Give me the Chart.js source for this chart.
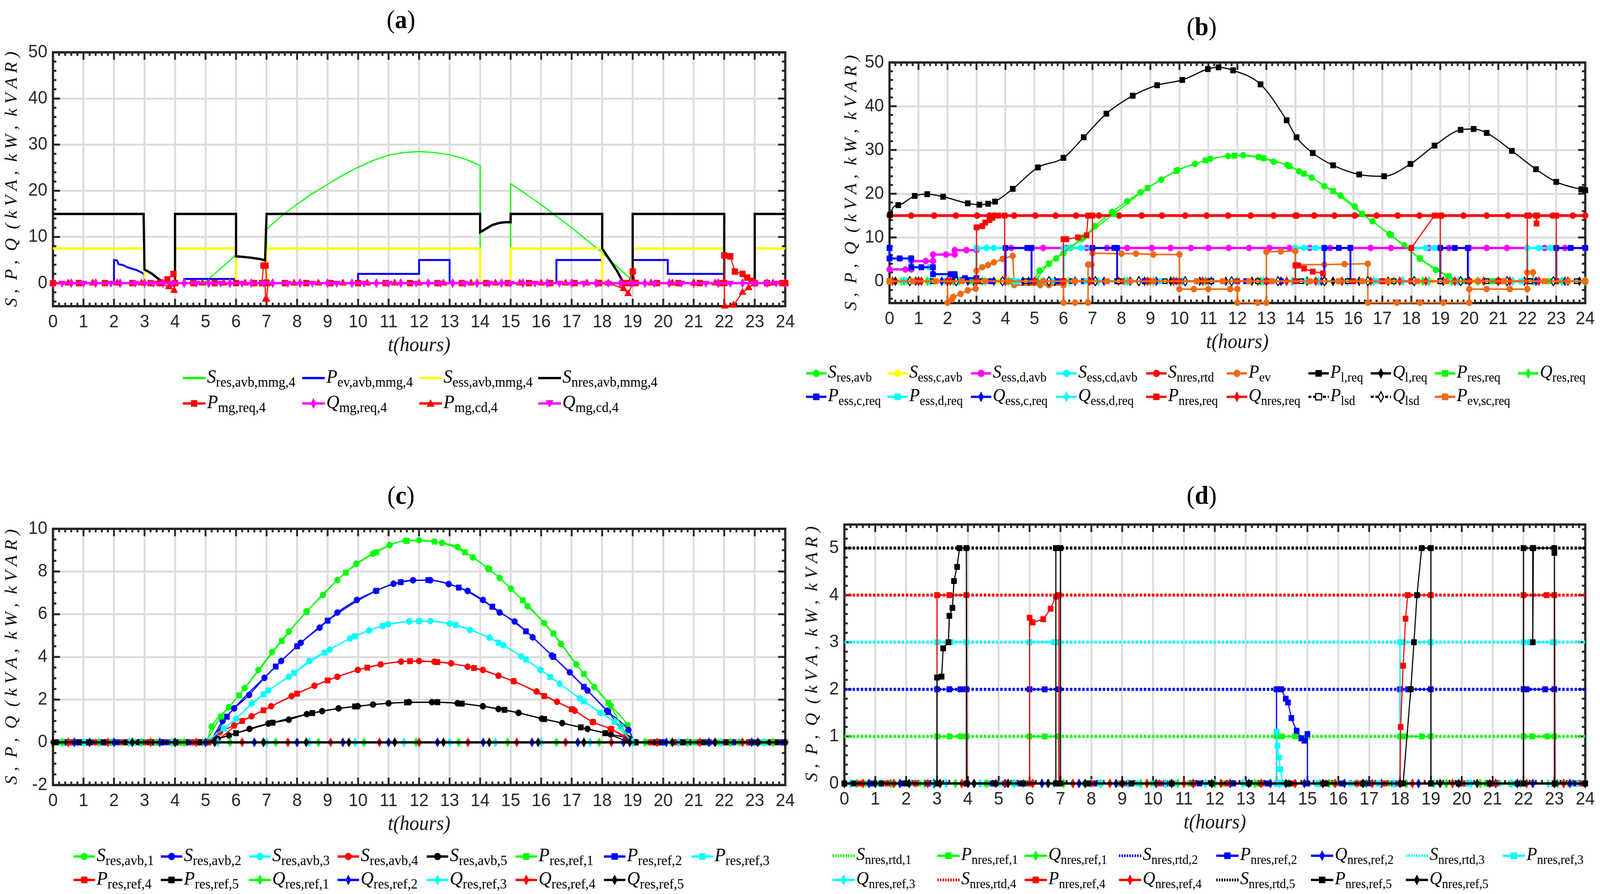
<!DOCTYPE html>
<html>
<head>
<meta charset="utf-8">
<script src="https://cdn.jsdelivr.net/npm/chart.js@4.4.1/dist/chart.umd.min.js"></script>
<style>
html,body{margin:0;padding:0;background:#fff;overflow:hidden;}
#wrap{position:relative;width:100vw;height:100vh;overflow:hidden;background:#fff;}
#root{position:absolute;left:0;top:0;width:4290px;height:2289px;overflow:hidden;background:#fff;transform-origin:0 0;}
canvas.cv{position:absolute;}
.ttl{position:absolute;font-family:"Liberation Serif","Times New Roman",serif;font-size:66px;color:#000;transform:translate(-50%,-50%);white-space:nowrap;line-height:1;}
.lg{position:absolute;display:flex;align-items:center;height:60px;white-space:nowrap;}
.lg svg{flex:none;}
.lt{font-family:"Liberation Serif","Times New Roman",serif;color:#000;line-height:1;margin-left:4px;}
.lt i{font-style:italic;}
.lt sub{vertical-align:-10px;line-height:1;}
</style>
</head>
<body>
<div id="wrap"><div id="root"></div></div>
<script>
// ================= DATA =================
// ---------- Panel (a) ----------
const a_Sres = [[0,0],[4.9,0],[5.0,0.3],[5.5,3.2],[6.0,6.1],[6.0,0],[7.0,0],[7.0,11.7],[7.5,14.6],[8.0,17.1],[8.5,19.4],[9.0,21.4],[9.5,23.4],[10.0,25.1],[10.5,26.6],[11.0,27.7],[11.5,28.3],[12.0,28.5],[12.5,28.3],[13.0,27.8],[13.5,26.9],[14.0,25.5],[14.0,0],[15.0,0],[15.0,21.5],[15.5,19.3],[16.0,17.0],[16.5,14.5],[17.0,12.0],[17.5,9.3],[18.0,6.6],[18.5,3.5],[19.0,0.5],[19.3,0],[24,0]];
const a_Pev = [[0,0],[2.0,0],[2.0,5.0],[2.1,4.9],[2.15,4.1],[2.3,3.9],[2.45,3.4],[2.6,3.1],[2.75,2.8],[2.9,2.3],[2.98,2.0],[3.0,0],[4.3,0],[4.3,0.9],[5.95,0.9],[5.95,0],[10.0,0],[10.0,2.0],[12.0,2.0],[12.0,5.0],[13.0,5.0],[13.0,0],[16.5,0],[16.5,5.0],[18.0,5.0],[18.0,0],[19.0,0],[19.0,5.0],[20.15,5.0],[20.15,2.0],[22.0,2.0],[22.0,0],[24,0]];
const a_Sess = [[0,7.5],[3,7.5],[3,0],[4,0],[4,7.5],[6,7.5],[6,0],[7,0],[7,7.5],[14,7.5],[14,0],[15,0],[15,7.5],[18,7.5],[18,0],[19,0],[19,7.5],[22,7.5],[22,0],[23,0],[23,7.5],[24,7.5]];
const a_Snres = [[0,15],[2.97,15],[3.0,2.9],[3.1,2.6],[3.25,2.0],[3.4,1.2],[3.55,0.5],[3.7,0],[4.0,0],[4.0,15],[6.0,15],[6.0,5.8],[6.2,5.7],[6.5,5.5],[6.8,5.2],[6.95,4.9],[7.0,15],[14.0,15],[14.0,11.0],[14.2,11.8],[14.4,12.6],[14.6,13.0],[14.8,13.2],[15.0,13.2],[15.0,15],[18.0,15],[18.0,7.5],[18.3,4.5],[18.5,2.5],[18.7,0],[19.0,0],[19.0,15],[22.0,15],[22.0,0],[23.0,0],[23.0,15],[24,15]];
const a_Pmgreq = [[0,0],[0.85,0],[1.7,0],[2.6,0],[3.2,0],[3.5,0],[3.75,0.8],[3.95,2.0],[4.0,0],[4.6,0],[5.3,0],[6.0,0],[6.6,0],[6.85,0],[6.9,3.8],[6.97,3.8],[7.0,0],[7.6,0],[8.3,0],[9.1,0],[10.0,0],[10.9,0],[11.7,0],[12.6,0],[13.4,0],[14.2,0],[14.9,0],[15.6,0],[16.3,0],[17.1,0],[17.9,0],[18.7,0],[18.85,0],[19.0,2.5],[19.1,0],[19.8,0],[20.5,0],[21.2,0],[21.9,0],[22.0,0],[22.0,6.0],[22.2,5.8],[22.35,2.5],[22.6,2.0],[22.75,1.2],[22.9,0.5],[23.0,0],[23.4,0],[23.9,0],[24,0]];
const a_Qmgreq = [[0,0],[0.6,0],[1.4,0],[2.2,0],[3.0,0],[3.6,0],[4.3,0],[5.1,0],[5.8,0],[6.5,0],[7.2,0],[8.1,0],[9.0,0],[9.8,0],[10.6,0],[11.4,0],[12.3,0],[13.1,0],[13.9,0],[14.7,0],[15.4,0],[16.2,0],[17.0,0],[17.8,0],[18.6,0],[19.4,0],[20.2,0],[21.0,0],[21.8,0],[22.6,0],[23.4,0],[24,0]];
const a_Pmgcd = [[0,0],[0.5,0],[1.3,0],[2.1,0],[2.9,0],[3.5,0],[3.8,-0.8],[3.97,-1.6],[4.0,0],[4.9,0],[5.6,0],[6.3,0],[6.95,0],[6.97,-3.5],[7.0,-3.5],[7.05,0],[7.9,0],[8.7,0],[9.5,0],[10.3,0],[11.2,0],[12.0,0],[12.8,0],[13.7,0],[14.5,0],[15.3,0],[16.0,0],[16.8,0],[17.5,0],[18.2,0],[18.7,-1.2],[18.85,-2.3],[19.0,0],[19.6,0],[20.3,0],[21.0,0],[21.7,0],[22.0,0],[22.02,-5.0],[22.3,-4.8],[22.6,-2.0],[22.8,-1.0],[23.0,0],[23.6,0],[24,0]];
const a_Qmgcd = [[0.3,0],[1.0,0],[1.9,0],[2.7,0],[3.3,0],[3.9,0],[4.7,0],[5.5,0],[6.2,0],[6.9,0],[7.7,0],[8.5,0],[9.3,0],[10.2,0],[11.0,0],[11.9,0],[12.7,0],[13.5,0],[14.3,0],[15.0,0],[15.8,0],[16.6,0],[17.4,0],[18.2,0],[19.0,0],[19.7,0],[20.6,0],[21.4,0],[22.2,0],[23.0,0],[23.7,0]];

// ---------- Panel (b) ----------
const b_Sres = [[0,0],[0.6,0],[1.5,0],[2.4,0],[3.3,0],[4.2,0],[4.9,0],[5.17,2.4],[5.5,4.0],[5.75,5.2],[6.0,6.4],[6.24,7.6],[6.69,10.0],[7.09,12.6],[7.67,15.8],[8.2,18.3],[8.66,20.3],[9.37,23.2],[9.93,25.4],[10.54,26.8],[11.07,28.0],[11.68,28.6],[12.2,28.8],[12.73,28.4],[13.25,27.3],[13.72,26.6],[14.13,25.1],[14.56,23.7],[15.0,21.7],[15.56,19.6],[16.05,17.1],[16.3,15.4],[16.66,13.7],[17.24,10.8],[17.76,8.2],[18.29,5.2],[18.85,2.6],[19.28,1.1],[19.7,0.15],[20.3,0],[21.2,0],[22.1,0],[23.0,0],[24,0]];
const b_Sessc = [[0.3,0],[0.8,0],[1.6,0],[2.5,0],[3.7,0],[5.0,0],[6.1,0],[7.4,0],[8.8,0],[10.1,0],[11.5,0],[12.9,0],[14.5,0],[15.9,0],[17.3,0],[18.7,0],[20.1,0],[21.5,0],[22.9,0],[24,0]];
const b_Sessd = [[0,2.7],[0.55,2.7],[0.75,2.7],[0.75,4.6],[1.25,4.6],[1.5,4.6],[1.5,6.1],[1.95,6.1],[2.25,6.1],[2.25,7.1],[2.65,7.1],[3.0,7.1],[3.0,7.6],[4.2,7.6],[5.3,7.6],[6.1,7.6],[6.8,7.6],[7.5,7.6],[8.2,7.6],[9.05,7.6],[9.7,7.6],[10.4,7.6],[11.0,7.6],[11.7,7.6],[12.4,7.6],[13.1,7.6],[13.8,7.6],[14.5,7.6],[15.2,7.6],[15.9,7.6],[16.6,7.6],[17.3,7.6],[18.0,7.6],[18.6,7.6],[19.3,7.6],[20.0,7.6],[20.6,7.6],[21.3,7.6],[22.0,7.6],[22.6,7.6],[23.3,7.6],[24,7.6]];
const b_Sesscd = [[0,5.2],[0.7,5.2],[0.75,5.2],[0.75,3.2],[1.37,3.2],[1.5,3.2],[1.5,1.6],[2.25,1.6],[2.25,0.7],[3.0,0.7],[3.0,7.6],[3.35,7.6],[3.6,7.6],[4.0,7.6],[4.0,0],[6.0,0],[6.0,7.6],[6.2,7.6],[6.6,7.6],[7.0,7.6],[7.0,0],[14.0,0],[14.0,7.6],[14.3,7.6],[14.7,7.6],[15.0,7.6],[15.0,0],[18.0,0],[18.0,7.6],[18.5,7.6],[18.8,7.6],[19.0,7.6],[19.0,0],[22.0,0],[22.0,7.6],[22.4,7.6],[22.8,7.6],[23.0,7.6],[23.0,0],[24,0]];
const b_Snres = [[0,15],[0.75,15],[1.54,15],[2.29,15],[3.02,15],[3.45,15],[3.6,15],[4.3,15],[5.03,15],[5.73,15],[6.43,15],[7.22,15],[7.92,15],[8.7,15],[9.4,15],[10.2,15],[10.94,15],[11.68,15],[12.46,15],[13.25,15],[14.0,15],[14.05,15],[14.65,15],[15.35,15],[16.05,15],[16.8,15],[17.53,15],[18.28,15],[19.05,15],[19.8,15],[20.6,15],[21.33,15],[22.08,15],[22.87,15],[23.57,15],[24,15]];
const b_Pev = [[0,0],[0.9,0],[2.0,0],[2.0,-4.9],[2.15,-4.2],[2.2,-3.6],[2.45,-2.9],[2.7,-2.1],[2.97,-1.7],[3.0,2.4],[3.2,3.2],[3.4,3.7],[3.6,4.3],[3.9,5.1],[4.25,5.8],[4.3,-0.9],[5.2,-0.9],[5.5,-0.9],[6.0,-0.9],[6.0,-4.9],[6.4,-4.9],[6.85,-4.9],[6.85,3.8],[6.97,3.8],[7.0,6.4],[8.0,6.3],[8.5,6.3],[9.1,6.1],[10.0,6.1],[10.0,-1.8],[10.5,-1.8],[11.0,-1.8],[11.75,-1.8],[12.0,-1.8],[12.0,-4.9],[12.7,-4.9],[13.0,-4.9],[13.0,6.7],[13.5,6.8],[14.0,6.9],[14.0,3.8],[15.0,3.8],[15.7,3.9],[16.5,4.0],[16.5,-4.9],[17.5,-4.9],[18.3,-4.9],[19.1,-4.9],[20.0,-4.9],[20.0,-1.8],[20.6,-1.8],[21.4,-1.8],[22.0,-1.8],[22.0,2.0],[22.2,2.0],[22.2,0],[23.0,0],[24,0]];
const b_Pl = [[0,7.6],[0.02,15.2],[0.3,17.4],[0.87,19.5],[1.3,19.9],[1.85,19.3],[2.7,17.8],[3.1,17.5],[3.4,17.7],[3.64,18.2],[4.25,21.1],[5.12,26.0],[6.0,28.2],[6.7,32.9],[7.48,38.3],[8.39,42.4],[9.23,44.8],[10.1,46.0],[10.98,48.5],[11.35,48.9],[11.85,48.2],[12.8,45.0],[13.7,36.8],[14.04,32.9],[14.6,29.3],[15.3,26.5],[16.2,24.4],[17.06,24.0],[17.97,26.8],[18.8,31.0],[19.7,34.6],[20.15,34.8],[20.6,33.9],[21.47,29.8],[22.3,25.6],[23.0,22.7],[23.86,21.0],[24,20.8]];
const b_Ql = [[0.2,0],[1.0,0],[2.0,0],[2.9,0],[3.9,0],[4.8,0],[5.7,0],[6.9,0],[7.9,0],[8.8,0],[9.7,0],[10.7,0],[11.6,0],[12.5,0],[13.5,0],[14.4,0],[15.3,0],[16.2,0],[17.2,0],[18.1,0],[19.1,0],[20.0,0],[21.0,0],[21.9,0],[22.9,0],[23.8,0]];
const b_Pres = [[0,0],[0.9,0],[1.9,0],[2.8,0],[3.9,0],[4.9,0],[5.5,4.0],[6.6,9.6],[7.74,15.4],[8.9,21.3],[9.9,25.2],[10.9,27.6],[11.9,28.7],[12.9,28.1],[13.8,26.3],[14.3,24.6],[15.3,20.6],[16.3,15.4],[17.3,10.5],[18.3,5.2],[19.3,1.1],[19.8,0],[20.8,0],[21.8,0],[22.8,0],[24,0]];
const b_Qres = [[0.5,0],[1.3,0],[2.2,0],[3.2,0],[4.1,0],[5.1,0],[6.0,0],[7.1,0],[8.1,0],[9.0,0],[9.9,0],[10.9,0],[11.8,0],[12.8,0],[13.7,0],[14.7,0],[15.6,0],[16.5,0],[17.4,0],[18.4,0],[19.4,0],[20.3,0],[21.3,0],[22.2,0],[23.2,0],[24,0]];
const b_Pessc = [[0,7.6],[0,5.2],[0.35,5.2],[0.75,5.2],[0.75,3.2],[1.1,3.2],[1.5,3.2],[1.5,1.6],[2.1,1.6],[2.25,1.6],[2.25,0.7],[2.6,0.7],[3.0,0.7],[3.0,0],[3.5,0],[4.0,0],[4.0,7.6],[4.75,7.6],[4.9,7.6],[4.9,0],[5.8,0],[6.7,0],[7.0,0],[7.0,7.6],[7.75,7.6],[7.85,7.6],[7.85,0],[8.8,0],[9.9,0],[11.1,0],[12.3,0],[13.5,0],[14.8,0],[15.0,0],[15.0,7.6],[15.5,7.6],[15.9,7.6],[15.9,0],[17.0,0],[18.1,0],[19.0,0],[19.0,7.6],[19.5,7.6],[19.95,7.6],[19.95,0],[21.0,0],[22.1,0],[23.0,0],[23.0,7.6],[23.5,7.6],[24,7.6]];
const b_Pessd = [[0.6,0],[1.9,0],[3.1,0],[4.4,0],[5.6,0],[6.8,0],[8.1,0],[9.3,0],[10.6,0],[11.8,0],[13.1,0],[14.3,0],[15.6,0],[16.8,0],[18.1,0],[19.3,0],[20.6,0],[21.8,0],[23.1,0]];
const b_Qessc = [[0.9,0],[1.8,0],[2.7,0],[3.6,0],[4.6,0],[5.5,0],[6.4,0],[7.4,0],[8.3,0],[9.2,0],[10.2,0],[11.1,0],[12.0,0],[13.0,0],[13.9,0],[14.9,0],[15.8,0],[16.7,0],[17.7,0],[18.6,0],[19.5,0],[20.5,0],[21.4,0],[22.3,0],[23.3,0]];
const b_Qessd = [[0.4,0],[1.4,0],[2.4,0],[3.3,0],[4.3,0],[5.3,0],[6.2,0],[7.2,0],[8.2,0],[9.1,0],[10.1,0],[11.0,0],[12.0,0],[12.9,0],[13.9,0],[14.8,0],[15.8,0],[16.7,0],[17.7,0],[18.6,0],[19.6,0],[20.5,0],[21.5,0],[22.4,0],[23.4,0]];
const b_Pnres = [[0,0],[1.0,0],[2.0,0],[3.0,0],[3.0,12.3],[3.2,12.6],[3.3,13.4],[3.45,14.0],[3.55,14.5],[3.75,15.0],[3.97,15.0],[3.97,0],[5.0,0],[6.0,0],[6.0,9.6],[6.1,9.6],[6.5,10.0],[6.8,10.5],[6.85,15.0],[7.0,15.0],[7.0,0],[8.0,0],[9.0,0],[10.0,0],[11.0,0],[12.0,0],[13.0,0],[14.0,0],[14.0,3.6],[14.1,3.6],[14.3,2.9],[14.6,2.2],[14.95,1.8],[15.0,0],[16.0,0],[17.0,0],[18.0,0],[18.0,7.6],[18.8,15.0],[19.0,15.0],[19.0,0],[20.0,0],[21.0,0],[22.0,0],[22.0,15.0],[22.3,15.0],[22.32,13.2],[22.34,15.0],[23.0,15.0],[23.0,0],[24,0]];
const b_Qnres = [[0.1,0],[1.1,0],[2.1,0],[3.0,0],[4.0,0],[5.0,0],[6.0,0],[6.9,0],[7.9,0],[8.9,0],[9.8,0],[10.8,0],[11.8,0],[12.7,0],[13.7,0],[14.7,0],[15.6,0],[16.6,0],[17.6,0],[18.5,0],[19.5,0],[20.5,0],[21.4,0],[22.4,0],[23.4,0]];
const b_Plsd = [[1.5,0],[3.2,0],[4.7,0],[6.3,0],[7.9,0],[9.5,0],[11.1,0],[12.7,0],[14.2,0],[15.8,0],[17.4,0],[19.0,0],[20.6,0],[22.1,0],[23.7,0]];
const b_Qlsd = [[0.7,0],[2.3,0],[3.9,0],[5.5,0],[7.1,0],[8.6,0],[10.2,0],[11.8,0],[13.4,0],[15.0,0],[16.5,0],[18.1,0],[19.7,0],[21.3,0],[22.9,0]];
const b_Pevsc = [[0,0],[0.8,0],[1.6,0],[2.5,0],[3.3,0],[4.1,0],[5.3,0],[6.4,0],[7.5,0],[8.3,0],[9.1,0],[10.6,0],[11.5,0],[12.4,0],[13.2,0],[14.5,0],[15.5,0],[16.3,0],[17.2,0],[18.2,0],[19.2,0],[20.3,0],[21.2,0],[22.6,0],[23.4,0],[24,0]];

// ---------- Panel (c) ----------
const c_S1 = [[0.6,0],[1.4,0],[2.2,0],[3.0,0],[3.8,0],[4.6,0],[5.0,0],[5.2,0.74],[5.76,1.64],[6.28,2.54],[6.73,3.39],[7.18,4.23],[7.73,5.19],[8.32,6.14],[8.85,6.9],[9.32,7.6],[9.94,8.36],[10.49,8.84],[11.03,9.24],[11.55,9.44],[12.0,9.47],[12.75,9.34],[13.26,9.15],[13.76,8.66],[14.26,8.15],[14.64,7.7],[15.01,7.2],[15.56,6.37],[16.1,5.58],[16.65,4.6],[17.15,3.65],[17.74,2.59],[18.28,1.72],[18.83,0.81],[19.1,0],[19.8,0],[20.6,0],[21.4,0],[22.2,0],[23.0,0],[23.8,0]];
const c_S2 = [[0.8,0],[1.6,0],[2.5,0],[3.3,0],[4.1,0],[4.8,0],[5.05,0],[5.56,1.0],[5.94,1.59],[6.43,2.22],[6.93,3.02],[7.48,3.81],[8.12,4.66],[8.74,5.37],[9.32,6.08],[9.96,6.67],[10.58,7.09],[11.16,7.43],[11.8,7.59],[12.37,7.59],[12.97,7.41],[13.59,7.09],[14.09,6.67],[14.64,6.08],[15.13,5.66],[15.72,4.92],[16.35,4.07],[16.94,3.28],[17.52,2.43],[18.16,1.48],[18.86,0.58],[19.1,0],[20.0,0],[20.9,0],[21.7,0],[22.5,0],[23.3,0],[24,0]];
const c_S3 = [[0.5,0],[1.2,0],[2.0,0],[2.7,0],[3.5,0],[4.3,0],[5.0,0],[5.5,0.55],[6.0,1.1],[6.51,1.82],[7.06,2.43],[7.73,3.07],[8.4,3.81],[9.07,4.34],[9.74,4.87],[10.36,5.24],[10.99,5.53],[11.67,5.66],[12.37,5.68],[13.0,5.56],[13.67,5.26],[14.31,4.9],[14.76,4.55],[15.35,4.02],[15.98,3.39],[16.6,2.75],[17.27,2.06],[17.94,1.38],[18.61,0.74],[19.1,0],[19.6,0],[20.4,0],[21.1,0],[21.9,0],[22.6,0],[23.4,0],[24,0]];
const c_S4 = [[0.9,0],[1.7,0],[2.6,0],[3.4,0],[4.2,0],[4.9,0],[5.05,0],[5.47,0.48],[5.94,0.79],[6.51,1.22],[7.15,1.69],[7.82,2.17],[8.57,2.65],[9.32,3.07],[9.99,3.39],[10.74,3.65],[11.41,3.78],[12.0,3.81],[12.5,3.78],[13.05,3.7],[13.59,3.54],[14.09,3.39],[14.6,3.12],[15.1,2.86],[15.85,2.38],[16.52,1.9],[17.1,1.48],[17.69,0.95],[18.28,0.63],[18.78,0.26],[19.1,0],[19.9,0],[20.7,0],[21.5,0],[22.3,0],[23.1,0],[23.9,0]];
const c_S5 = [[0.4,0],[1.1,0],[1.9,0],[2.8,0],[3.6,0],[4.4,0],[5.0,0],[5.4,0.17],[5.77,0.32],[6.44,0.63],[7.06,0.88],[7.73,1.06],[8.32,1.32],[8.82,1.46],[9.36,1.59],[9.99,1.69],[10.49,1.77],[11.0,1.83],[11.67,1.88],[12.42,1.88],[13.26,1.83],[14.09,1.69],[14.6,1.56],[15.26,1.38],[16.02,1.11],[16.69,0.9],[17.52,0.63],[18.28,0.37],[18.86,0.18],[19.1,0],[19.7,0],[20.5,0],[21.2,0],[22.0,0],[22.8,0],[23.5,0],[24,0]];
const c_P1 = [[0.3,0],[1.0,0],[1.9,0],[2.6,0],[3.4,0],[4.2,0],[4.9,0],[5.5,1.2],[6.1,2.2],[7.5,4.75],[8.3,6.1],[9.6,7.95],[10.6,8.9],[11.6,9.44],[12.5,9.4],[13.5,8.9],[14.3,8.1],[15.4,6.65],[16.4,5.1],[17.4,3.2],[18.2,1.85],[19.1,0],[19.5,0],[20.3,0],[21.0,0],[21.8,0],[22.5,0],[23.3,0],[24,0]];
const c_P2 = [[0.5,0],[1.3,0],[2.1,0],[2.9,0],[3.7,0],[4.5,0],[5.1,0],[5.7,1.2],[7.3,3.55],[8.0,4.5],[9.0,5.7],[10.6,7.1],[11.4,7.5],[12.3,7.6],[13.3,7.25],[14.4,6.35],[15.5,5.2],[16.4,4.0],[17.4,2.6],[18.2,1.42],[19.1,0],[19.9,0],[20.7,0],[21.5,0],[22.3,0],[23.1,0],[23.9,0]];
const c_P3 = [[0.2,0],[1.0,0],[1.8,0],[2.4,0],[3.2,0],[4.0,0],[4.8,0],[5.6,0.65],[6.9,2.25],[7.9,3.25],[8.9,4.2],[9.9,4.97],[10.8,5.45],[12.0,5.67],[13.2,5.5],[14.6,4.67],[15.5,3.88],[16.3,3.06],[17.4,1.92],[18.4,0.95],[19.1,0],[19.8,0],[20.5,0],[21.3,0],[22.0,0],[22.8,0],[23.6,0]];
const c_P4 = [[0.6,0],[1.4,0],[2.3,0],[3.1,0],[3.9,0],[4.6,0],[5.1,0],[6.2,1.0],[6.9,1.5],[8.0,2.28],[9.0,2.9],[10.3,3.5],[11.7,3.8],[12.6,3.76],[13.8,3.48],[15.1,2.86],[16.1,2.17],[17.0,1.55],[17.7,0.95],[18.3,0.62],[19.1,0],[19.6,0],[20.4,0],[21.2,0],[22.0,0],[22.8,0],[23.6,0]];
const c_P5 = [[0.1,0],[0.9,0],[1.7,0],[2.4,0],[3.2,0],[4.0,0],[4.8,0],[6.0,0.43],[7.2,0.92],[8.5,1.37],[9.9,1.68],[11.6,1.87],[12.6,1.88],[13.4,1.81],[14.8,1.52],[16.1,1.09],[17.3,0.7],[18.1,0.43],[19.1,0],[19.8,0],[20.6,0],[21.3,0],[22.1,0],[22.9,0],[23.7,0]];
const c_Q1 = [[0.3,0],[1.5,0],[2.9,0],[4.3,0],[5.8,0],[7.3,0],[8.7,0],[10.2,0],[11.9,0],[13.3,0],[14.9,0],[16.5,0],[17.9,0],[19.4,0],[20.8,0],[22.2,0],[23.6,0]];
const c_Q2 = [[0.7,0],[2.0,0],[3.5,0],[5.0,0],[6.6,0],[8.0,0],[9.5,0],[11.0,0],[12.6,0],[14.1,0],[15.7,0],[17.2,0],[18.7,0],[20.1,0],[21.5,0],[22.9,0],[24,0]];
const c_Q3 = [[1.0,0],[2.5,0],[3.9,0],[5.4,0],[7.0,0],[8.4,0],[9.9,0],[11.5,0],[13.0,0],[14.5,0],[16.0,0],[17.6,0],[19.0,0],[20.5,0],[21.9,0],[23.3,0]];
const c_Q4 = [[0.5,0],[1.8,0],[3.2,0],[4.7,0],[6.2,0],[7.7,0],[9.1,0],[10.7,0],[12.0,0],[13.6,0],[15.2,0],[16.8,0],[18.3,0],[19.8,0],[21.2,0],[22.6,0],[24,0]];
const c_Q5 = [[0,0],[1.2,0],[2.6,0],[4.0,0],[5.3,0],[6.9,0],[8.3,0],[9.7,0],[11.2,0],[12.8,0],[14.3,0],[15.9,0],[17.4,0],[18.9,0],[20.3,0],[21.7,0],[23.1,0],[24,0]];

// ---------- Panel (d) ----------
const d_S1 = [[0,1],[24,1]];
const d_S2 = [[0,2],[24,2]];
const d_S3 = [[0,3],[24,3]];
const d_S4 = [[0,4],[24,4]];
const d_S5 = [[0,5],[24,5]];
const d_P1 = [[0,0],[0.7,0],[1.6,0],[2.4,0],[3.0,0],[3.0,1],[3.4,1],[3.76,1],[3.95,1],[3.95,0],[4.6,0],[5.5,0],[6.0,0],[6.0,1],[6.49,1],[6.93,1],[6.95,0],[7.8,0],[8.9,0],[10.0,0],[11.2,0],[12.3,0],[13.4,0],[14.0,0],[14.0,1],[14.16,1],[14.6,1],[15.0,1],[15.0,0],[15.9,0],[16.8,0],[17.6,0],[18.0,0],[18.0,1],[18.14,1],[18.7,1],[19.0,1],[19.0,0],[19.9,0],[20.8,0],[21.6,0],[22.0,0],[22.0,1],[22.28,1],[22.77,1],[23.0,1],[23.0,0],[23.5,0],[24,0]];
const d_P2 = [[0,0],[0.9,0],[1.9,0],[2.7,0],[3.0,0],[3.0,2],[3.4,2],[3.76,2],[3.95,2],[3.95,0],[4.8,0],[5.7,0],[6.0,0],[6.0,2],[6.49,2],[6.95,2],[6.95,0],[8.1,0],[9.2,0],[10.4,0],[11.5,0],[12.6,0],[13.7,0],[14.0,0],[14.0,2],[14.15,2],[14.3,1.8],[14.37,1.72],[14.48,1.39],[14.65,1.12],[14.8,0.96],[14.9,0.91],[15.0,1.05],[15.0,0],[16.1,0],[17.0,0],[17.8,0],[18.0,0],[18.0,2],[18.26,2],[19.0,2],[19.0,0],[20.1,0],[21.0,0],[21.8,0],[22.0,0],[22.0,2],[22.1,2],[22.7,2],[23.0,2],[23.0,0],[23.7,0]];
const d_P3 = [[0,0],[1.1,0],[2.1,0],[2.9,0],[3.0,0],[3.0,3],[3.45,3],[3.95,3],[3.95,0],[5.0,0],[5.9,0],[6.0,0],[6.0,3],[6.8,3],[6.95,3],[6.95,0],[8.3,0],[9.5,0],[10.7,0],[11.9,0],[13.0,0],[14.0,0],[14.0,1.1],[14.03,0.8],[14.08,0.55],[14.12,0.3],[14.2,0],[15.3,0],[16.4,0],[17.3,0],[18.0,0],[18.0,3],[18.1,3],[19.0,3],[19.0,0],[20.2,0],[21.2,0],[22.0,0],[22.0,3],[22.2,3],[22.95,3],[23.0,3],[23.0,0],[23.8,0]];
const d_P4 = [[0,0],[0.5,0],[1.4,0],[2.3,0],[3.0,0],[3.0,4],[3.4,4],[3.95,4],[3.95,0],[5.2,0],[6.0,0],[6.0,3.52],[6.1,3.42],[6.44,3.49],[6.68,3.71],[6.85,3.97],[6.95,4.0],[6.95,0],[8.0,0],[9.0,0],[10.2,0],[11.3,0],[12.4,0],[13.5,0],[14.5,0],[15.5,0],[16.6,0],[17.5,0],[18.0,0],[18.02,1.2],[18.1,2.5],[18.18,3.5],[18.25,4.0],[19.0,4.0],[19.0,0],[20.0,0],[21.1,0],[22.0,0],[22.0,4],[22.75,4],[23.0,4],[23.0,0],[23.9,0]];
const d_P5 = [[0,0],[0.3,0],[1.2,0],[2.0,0],[3.0,0],[3.0,2.25],[3.15,2.27],[3.2,2.87],[3.37,3.0],[3.4,3.56],[3.5,3.73],[3.55,4.3],[3.65,4.6],[3.73,5.0],[3.95,5.0],[3.97,0],[4.9,0],[5.8,0],[6.85,0],[6.85,5.0],[7.0,5.0],[7.0,0],[7.9,0],[9.3,0],[10.6,0],[11.9,0],[13.1,0],[14.4,0],[15.6,0],[16.8,0],[18.1,0],[18.35,2.0],[18.45,3.0],[18.55,4.0],[18.7,5.0],[19.0,5.0],[19.0,0],[19.9,0],[20.9,0],[22.0,0],[22.0,5.0],[22.3,5.0],[22.3,3.0],[22.32,5.0],[23.0,5.0],[23.0,4.9],[23.02,0],[24,0]];
const d_Q1 = [[0.4,0],[1.5,0],[2.6,0],[3.6,0],[4.6,0],[5.8,0],[7.1,0],[8.3,0],[9.6,0],[10.8,0],[12.0,0],[13.3,0],[14.4,0],[15.7,0],[16.9,0],[18.2,0],[19.5,0],[20.6,0],[21.9,0],[23.1,0],[24,0]];
const d_Q2 = [[0.8,0],[1.8,0],[2.9,0],[4.0,0],[5.2,0],[6.4,0],[7.6,0],[8.8,0],[10.1,0],[11.3,0],[12.5,0],[13.8,0],[14.9,0],[16.2,0],[17.4,0],[18.6,0],[19.9,0],[21.1,0],[22.3,0],[23.5,0]];
const d_Q3 = [[0.2,0],[1.2,0],[2.3,0],[3.3,0],[4.4,0],[5.5,0],[6.8,0],[8.0,0],[9.2,0],[10.4,0],[11.7,0],[12.9,0],[14.1,0],[15.4,0],[16.6,0],[17.8,0],[19.1,0],[20.3,0],[21.6,0],[22.8,0],[24,0]];
const d_Q4 = [[0.6,0],[1.6,0],[2.7,0],[3.8,0],[4.9,0],[6.1,0],[7.4,0],[8.6,0],[9.8,0],[11.0,0],[12.2,0],[13.5,0],[14.6,0],[15.9,0],[17.1,0],[18.4,0],[19.7,0],[20.9,0],[22.1,0],[23.3,0]];
const d_Q5 = [[0,0],[1.0,0],[2.1,0],[3.1,0],[4.2,0],[5.3,0],[6.6,0],[7.8,0],[9.0,0],[10.6,0],[11.9,0],[13.1,0],[14.3,0],[15.5,0],[16.8,0],[18.0,0],[19.3,0],[20.5,0],[21.8,0],[23.0,0],[24,0]];

// ================= STYLE / BUILD =================
const G='#00ff00',B='#0000ff',Y='#ffff00',K='#000000',R='#ff0000',M='#ff00ff',C='#00ffff',O='#ee6a16';

const diamondCache = {};
function diamond(color, open){
  const key = color + (open?'o':'f');
  if (diamondCache[key]) return diamondCache[key];
  const cv = document.createElement('canvas');
  cv.width = 16; cv.height = 26;
  const g = cv.getContext('2d');
  g.beginPath(); g.moveTo(8,1); g.lineTo(15,13); g.lineTo(8,25); g.lineTo(1,13); g.closePath();
  g.fillStyle = open ? '#ffffff' : color; g.fill();
  g.lineWidth = open ? 2.5 : 1; g.strokeStyle = color; g.stroke();
  diamondCache[key] = cv; return cv;
}

function mkDatasets(defs){
  const n = defs.length;
  return defs.map((d,i)=>({
    label: d.m + ' ' + d.s,
    data: d.d.map(p=>({x:p[0], y:p[1]})),
    borderColor: d.c,
    backgroundColor: d.c,
    borderWidth: d.w,
    borderDash: d.dash || [],
    pointStyle: d.mk === 'dia' ? diamond(d.c, d.open) : (d.mk || 'circle'),
    pointRadius: d.mk ? (d.r || 9) : 0,
    pointRotation: d.rot || 0,
    pointBackgroundColor: d.open ? '#ffffff' : d.c,
    pointBorderColor: d.c,
    pointBorderWidth: d.open ? 3 : 1,
    pointHoverRadius: 0,
    tension: 0,
    cubicInterpolationMode: d.smooth ? 'monotone' : 'default',
    clip: false,
    order: n - 1 - i,
    fill: false
  }));
}

const defsA = [
  {m:'S', s:'res,avb,mmg,4', c:G, d:a_Sres, w:3},
  {m:'P', s:'ev,avb,mmg,4', c:B, d:a_Pev, w:5},
  {m:'S', s:'ess,avb,mmg,4', c:Y, d:a_Sess, w:6},
  {m:'S', s:'nres,avb,mmg,4', c:K, d:a_Snres, w:6},
  {m:'P', s:'mg,req,4', c:R, d:a_Pmgreq, w:3, mk:'rect', r:11},
  {m:'Q', s:'mg,req,4', c:M, d:a_Qmgreq, w:6, mk:'dia'},
  {m:'P', s:'mg,cd,4', c:R, d:a_Pmgcd, w:3, mk:'triangle', r:11},
  {m:'Q', s:'mg,cd,4', c:M, d:a_Qmgcd, w:6, mk:'triangle', rot:180, r:11}
];
const defsB = [
  {m:'S', s:'res,avb', c:G, d:b_Sres, w:3, mk:'circle', r:8, smooth:true},
  {m:'S', s:'ess,c,avb', c:Y, d:b_Sessc, w:4, mk:'circle', r:8},
  {m:'S', s:'ess,d,avb', c:M, d:b_Sessd, w:6, mk:'circle', r:8},
  {m:'S', s:'ess,cd,avb', c:C, d:b_Sesscd, w:6, mk:'circle', r:8},
  {m:'S', s:'nres,rtd', c:R, d:b_Snres, w:7, mk:'circle', r:8},
  {m:'P', s:'ev', c:O, d:b_Pev, w:4, mk:'circle', r:8},
  {m:'P', s:'l,req', c:K, d:b_Pl, w:3, mk:'rect', r:10, smooth:true},
  {m:'Q', s:'l,req', c:K, d:b_Ql, w:3, mk:'dia'},
  {m:'P', s:'res,req', c:G, d:b_Pres, w:3, mk:'rect', r:10, smooth:true},
  {m:'Q', s:'res,req', c:G, d:b_Qres, w:3, mk:'dia'},
  {m:'P', s:'ess,c,req', c:B, d:b_Pessc, w:5, mk:'rect', r:10},
  {m:'P', s:'ess,d,req', c:C, d:b_Pessd, w:4, mk:'rect', r:10},
  {m:'Q', s:'ess,c,req', c:B, d:b_Qessc, w:3, mk:'dia'},
  {m:'Q', s:'ess,d,req', c:C, d:b_Qessd, w:3, mk:'dia'},
  {m:'P', s:'nres,req', c:R, d:b_Pnres, w:3, mk:'rect', r:10},
  {m:'Q', s:'nres,req', c:R, d:b_Qnres, w:3, mk:'dia'},
  {m:'P', s:'lsd', c:K, d:b_Plsd, w:3, dash:[10,6], mk:'rect', r:8, open:true},
  {m:'Q', s:'lsd', c:K, d:b_Qlsd, w:3, dash:[10,6], mk:'dia', open:true},
  {m:'P', s:'ev,sc,req', c:O, d:b_Pevsc, w:5, mk:'rect', r:10}
];
const defsC = [
  {m:'S', s:'res,avb,1', c:G, d:c_S1, w:3, mk:'circle', r:8, smooth:true},
  {m:'S', s:'res,avb,2', c:B, d:c_S2, w:3, mk:'circle', r:8, smooth:true},
  {m:'S', s:'res,avb,3', c:C, d:c_S3, w:3, mk:'circle', r:8, smooth:true},
  {m:'S', s:'res,avb,4', c:R, d:c_S4, w:3, mk:'circle', r:8, smooth:true},
  {m:'S', s:'res,avb,5', c:K, d:c_S5, w:3, mk:'circle', r:8, smooth:true},
  {m:'P', s:'res,ref,1', c:G, d:c_P1, w:3, mk:'rect', r:10, smooth:true},
  {m:'P', s:'res,ref,2', c:B, d:c_P2, w:3, mk:'rect', r:10, smooth:true},
  {m:'P', s:'res,ref,3', c:C, d:c_P3, w:3, mk:'rect', r:10, smooth:true},
  {m:'P', s:'res,ref,4', c:R, d:c_P4, w:3, mk:'rect', r:10, smooth:true},
  {m:'P', s:'res,ref,5', c:K, d:c_P5, w:3, mk:'rect', r:10, smooth:true},
  {m:'Q', s:'res,ref,1', c:G, d:c_Q1, w:3, mk:'dia'},
  {m:'Q', s:'res,ref,2', c:B, d:c_Q2, w:3, mk:'dia'},
  {m:'Q', s:'res,ref,3', c:C, d:c_Q3, w:3, mk:'dia'},
  {m:'Q', s:'res,ref,4', c:R, d:c_Q4, w:3, mk:'dia'},
  {m:'Q', s:'res,ref,5', c:K, d:c_Q5, w:6, mk:'dia'}
];
const defsD = [
  {m:'S', s:'nres,rtd,1', c:G, d:d_S1, w:8, dash:[6,5], dotted:true},
  {m:'P', s:'nres,ref,1', c:G, d:d_P1, w:3, mk:'rect', r:10},
  {m:'Q', s:'nres,ref,1', c:G, d:d_Q1, w:3, mk:'dia'},
  {m:'S', s:'nres,rtd,2', c:B, d:d_S2, w:8, dash:[6,5], dotted:true},
  {m:'P', s:'nres,ref,2', c:B, d:d_P2, w:3, mk:'rect', r:10},
  {m:'Q', s:'nres,ref,2', c:B, d:d_Q2, w:3, mk:'dia'},
  {m:'S', s:'nres,rtd,3', c:C, d:d_S3, w:8, dash:[6,5], dotted:true},
  {m:'P', s:'nres,ref,3', c:C, d:d_P3, w:3, mk:'rect', r:10},
  {m:'Q', s:'nres,ref,3', c:C, d:d_Q3, w:3, mk:'dia'},
  {m:'S', s:'nres,rtd,4', c:R, d:d_S4, w:8, dash:[6,5], dotted:true},
  {m:'P', s:'nres,ref,4', c:R, d:d_P4, w:3, mk:'rect', r:10},
  {m:'Q', s:'nres,ref,4', c:R, d:d_Q4, w:3, mk:'dia'},
  {m:'S', s:'nres,rtd,5', c:K, d:d_S5, w:8, dash:[6,5], dotted:true},
  {m:'P', s:'nres,ref,5', c:K, d:d_P5, w:3, mk:'rect', r:10},
  {m:'Q', s:'nres,ref,5', c:K, d:d_Q5, w:6, mk:'dia'}
];

const panels = [
  {id:'a', title:'a', tx:1075, ty:50,  left:0,    top:0,    w:2145, h:934, padTop:134, padRight:27, yW:142, yMin:-5, yMax:50,  yStep:10, yMinor:2,   ytPad:5,
   defs:defsA, cols:[490,810,1124,1443], rows:[968,1033], fs:[48,36], sw:61},
  {id:'b', title:'b', tx:3222, ty:68,  left:2150, top:0,    w:2140, h:926, padTop:160, padRight:23, yW:235, yMin:-5, yMax:50,  yStep:10, yMinor:2,   ytPad:106,
   defs:defsB, cols:[2161,2379,2603,2832,3073,3289,3508,3675,3847,4070], rows:[956,1016], fs:[46,33], sw:55},
  {id:'c', title:'c', tx:1075, ty:1268, left:0,   top:1180, w:2145, h:980, padTop:174, padRight:27, yW:142, yMin:-2, yMax:10,  yStep:2,  yMinor:0.5, ytPad:5,
   defs:defsC, cols:[197,431,668,905,1144,1382,1619,1854], rows:[2193,2253], fs:[48,36], sw:58},
  {id:'d', title:'d', tx:3222, ty:1268, left:2150, top:1180, w:2140, h:976, padTop:163, padRight:21, yW:114, yMin:0,  yMax:5.5, yStep:1,  yMinor:0.2, ytPad:1,
   defs:defsD, cols:[2232,2513,2747,3000,3261,3515,3769,4029], rows:[2191,2253], fs:[46,33], sw:60}
];

const boxTicks = {
  id:'boxTicks',
  beforeDatasetsDraw(chart, args, o){
    const {ctx, chartArea:a, scales:{x, y}} = chart;
    ctx.save();
    ctx.strokeStyle = '#262626'; ctx.lineWidth = 5; ctx.lineCap = 'butt';
    ctx.beginPath();
    for (let i = 0; i <= 120; i++) {
      const px = x.getPixelForValue(i * 0.2);
      const len = (i % 5 === 0) ? 19 : 9;
      ctx.moveTo(px, a.bottom); ctx.lineTo(px, a.bottom - len);
      ctx.moveTo(px, a.top); ctx.lineTo(px, a.top + len);
    }
    const k0 = Math.ceil(o.yMin / o.yMinor - 1e-9), k1 = Math.floor(o.yMax / o.yMinor + 1e-9);
    for (let k = k0; k <= k1; k++) {
      const v = k * o.yMinor;
      const q = v / o.yStep;
      const len = Math.abs(q - Math.round(q)) < 1e-6 ? 19 : 9;
      const py = y.getPixelForValue(v);
      ctx.moveTo(a.left, py); ctx.lineTo(a.left + len, py);
      ctx.moveTo(a.right, py); ctx.lineTo(a.right - len, py);
    }
    ctx.stroke();
    ctx.lineWidth = 6;
    ctx.strokeRect(a.left, a.top, a.right - a.left, a.bottom - a.top);
    ctx.restore();
  }
};
Chart.register(boxTicks);

const tickFont = {family:'"Liberation Sans", Arial, Helvetica, sans-serif', size:46};
const serif = '"Liberation Serif", "Times New Roman", serif';

function sampleSvg(d, W){
  const H = 30, cy = 15, cx = W/2;
  const fill = d.open ? '#fff' : d.c, sw = d.open ? 3 : 1;
  let s = `<svg xmlns="http://www.w3.org/2000/svg" width="${W}" height="${H}" viewBox="0 0 ${W} ${H}">`;
  const dash = d.dotted ? ' stroke-dasharray="4 3"' : (d.dash ? ' stroke-dasharray="8 5"' : '');
  s += `<line x1="0" y1="${cy}" x2="${W}" y2="${cy}" stroke="${d.c}" stroke-width="${d.dotted ? 7 : 6}"${dash}/>`;
  if (d.mk === 'circle') s += `<circle cx="${cx}" cy="${cy}" r="9" fill="${fill}" stroke="${d.c}" stroke-width="${sw}"/>`;
  else if (d.mk === 'rect') s += `<rect x="${cx-8}" y="${cy-8}" width="16" height="16" fill="${fill}" stroke="${d.c}" stroke-width="${sw}"/>`;
  else if (d.mk === 'dia') s += `<polygon points="${cx},${cy-13} ${cx+7},${cy} ${cx},${cy+13} ${cx-7},${cy}" fill="${fill}" stroke="${d.c}" stroke-width="${sw}"/>`;
  else if (d.mk === 'triangle' && d.rot) s += `<polygon points="${cx-10},${cy-8} ${cx+10},${cy-8} ${cx},${cy+10}" fill="${fill}" stroke="${d.c}"/>`;
  else if (d.mk === 'triangle') s += `<polygon points="${cx-10},${cy+8} ${cx+10},${cy+8} ${cx},${cy-10}" fill="${fill}" stroke="${d.c}"/>`;
  return s + '</svg>';
}

const root = document.getElementById('root');
function fitRoot(){
  const vw = window.innerWidth || document.documentElement.clientWidth || 4290;
  const vh = window.innerHeight || document.documentElement.clientHeight || 2289;
  const sx = vw / 4290, sy = vh / 2289;
  root.style.transform = (Math.abs(sx - 1) < 1e-4 && Math.abs(sy - 1) < 1e-4) ? 'none' : `scale(${sx}, ${sy})`;
}
fitRoot();
window.addEventListener('resize', fitRoot);

panels.forEach(p => {
  const t = document.createElement('div');
  t.className = 'ttl'; t.style.left = p.tx + 'px'; t.style.top = p.ty + 'px';
  t.innerHTML = '(<b>' + p.title + '</b>)';
  root.appendChild(t);
  const cv = document.createElement('canvas');
  cv.className = 'cv'; cv.width = p.w; cv.height = p.h;
  cv.style.left = p.left + 'px'; cv.style.top = p.top + 'px';
  cv.style.width = p.w + 'px'; cv.style.height = p.h + 'px';
  root.appendChild(cv);
  new Chart(cv.getContext('2d'), {
    type: 'line',
    data: {datasets: mkDatasets(p.defs)},
    options: {
      responsive: false, animation: false, devicePixelRatio: 1,
      layout: {padding: {top: p.padTop, right: p.padRight, left: 0, bottom: 0}},
      plugins: {legend: {display: false}, tooltip: {enabled: false}, title: {display: false},
        boxTicks: {yMin: p.yMin, yMax: p.yMax, yStep: p.yStep, yMinor: p.yMinor}},
      events: [],
      scales: {
        x: {type: 'linear', min: 0, max: 24,
          ticks: {stepSize: 1, maxTicksLimit: 100, includeBounds: false, autoSkip: false, maxRotation: 0, font: tickFont, color: '#262626', padding: 14},
          grid: {color: '#dcdcdc', lineWidth: 5, drawTicks: false},
          border: {display: false},
          title: {display: true, text: 't(hours)', color: '#111', font: {family: serif, size: 52, style: 'italic', lineHeight: 1.2}, padding: {top: 0, bottom: 17}},
          afterFit(s) { s.height = 150; }
        },
        y: {type: 'linear', min: p.yMin, max: p.yMax,
          ticks: {stepSize: p.yStep, maxTicksLimit: 100, includeBounds: false, font: tickFont, color: '#262626', padding: 15},
          grid: {color: '#dcdcdc', lineWidth: 5, drawTicks: false},
          border: {display: false},
          title: {display: true, text: 'S ,  P ,  Q  ( k V A ,  k W ,  k V A R )', color: '#111', font: {family: serif, size: 46, style: 'italic', lineHeight: 1.2}, padding: {top: p.ytPad, bottom: 0}},
          afterFit(s) { s.width = p.yW; }
        }
      }
    }
  });
  p.defs.forEach((d, i) => {
    const r = Math.floor(i / p.cols.length), c = i % p.cols.length;
    const el = document.createElement('div');
    el.className = 'lg';
    el.style.left = p.cols[c] + 'px'; el.style.top = (p.rows[r] - 30) + 'px';
    el.innerHTML = sampleSvg(d, p.sw) +
      `<span class="lt"><i style="font-size:${p.fs[0]}px">${d.m}</i><sub style="font-size:${p.fs[1]}px">${d.s}</sub></span>`;
    root.appendChild(el);
  });
});
</script>
</body>
</html>
